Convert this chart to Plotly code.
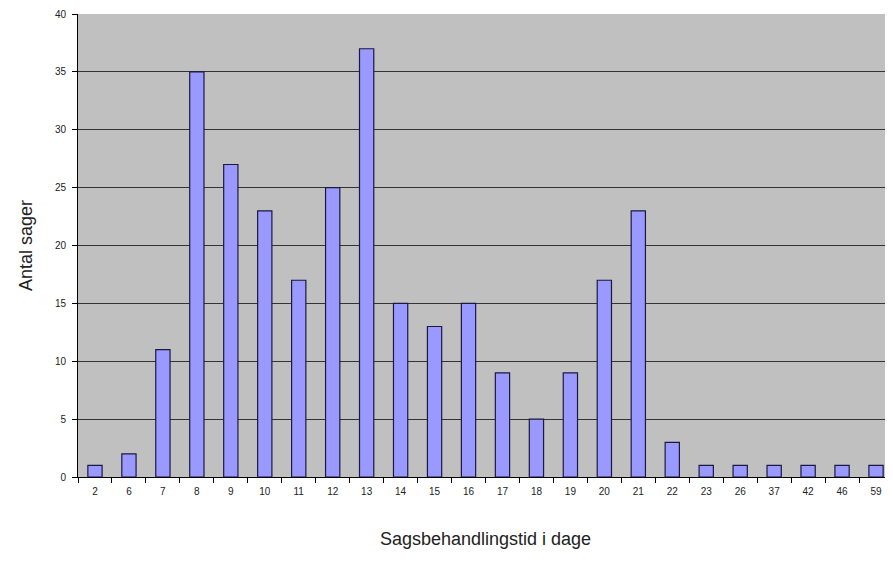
import plotly.graph_objects as go

categories = ["2", "6", "7", "8", "9", "10", "11", "12", "13", "14", "15", "16",
              "17", "18", "19", "20", "21", "22", "23", "26", "37", "42", "46", "59"]
counts = [1, 2, 11, 35, 27, 23, 17, 25, 37, 15, 13, 15,
          9, 5, 9, 17, 23, 3, 1, 1, 1, 1, 1, 1]
y_ticks = [0, 5, 10, 15, 20, 25, 30, 35, 40]

fig = go.Figure(go.Bar(
    x=categories, y=counts,
    marker=dict(color="#9999FF", line=dict(color="#1a1a40", width=1.2)),
))

fig.update_layout(
    width=885, height=554,
    margin=dict(l=70, r=0, t=4, b=85),
    paper_bgcolor="white", plot_bgcolor="#C0C0C0",
    bargap=0.58, showlegend=False,
    font=dict(family="Liberation Sans, Arial, sans-serif", color="#222"),
)
fig.update_xaxes(
    type="category", tickson="boundaries", ticks="outside", ticklen=5,
    tickcolor="black", showline=True, linecolor="black", linewidth=1,
    showgrid=False, tickfont=dict(size=10), ticklabelstandoff=5,
    title=dict(text="Sagsbehandlingstid i dage", font=dict(size=18), standoff=36),
)
fig.update_yaxes(
    range=[0, 40], tickvals=y_ticks, ticks="outside", ticklen=5, tickcolor="black",
    showline=True, linecolor="black", linewidth=1,
    showgrid=True, gridcolor="#333333", gridwidth=1, zeroline=False,
    tickfont=dict(size=10), ticklabeloverflow="allow", ticklabelstandoff=4,
    title=dict(text="Antal sager", font=dict(size=18), standoff=17),
)

fig.write_html("out.html")
